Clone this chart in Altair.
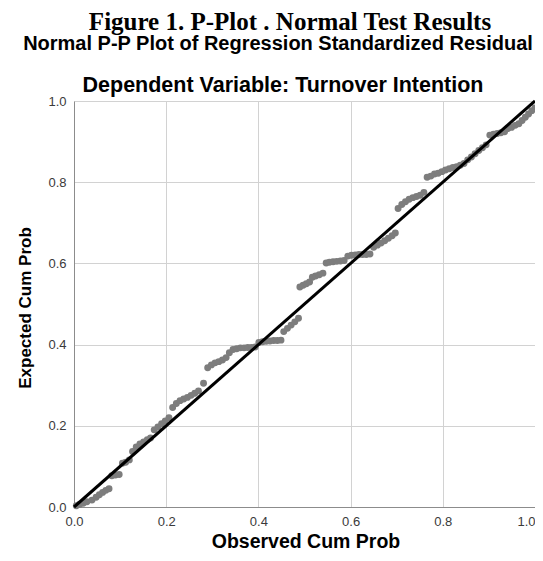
import altair as alt
import pandas as pd

# Observed cumulative probability (x) and expected cumulative probability (y)
obs = [
    0.005, 0.012, 0.020, 0.028, 0.039, 0.048, 0.055, 0.062, 0.069, 0.076,
    0.082, 0.090, 0.098,
    0.105, 0.112, 0.120,
    0.127, 0.135, 0.143, 0.151, 0.159, 0.166,
    0.174, 0.182, 0.190, 0.198, 0.206,
    0.214, 0.222, 0.230, 0.238, 0.246, 0.254, 0.262, 0.270,
    0.281,
    0.290, 0.298, 0.306, 0.314, 0.322, 0.330,
    0.337, 0.345, 0.353, 0.361, 0.369, 0.377, 0.385, 0.393,
    0.401, 0.409, 0.417, 0.425, 0.433, 0.441, 0.449,
    0.455, 0.463, 0.471, 0.479, 0.487,
    0.490, 0.497, 0.504, 0.511,
    0.517, 0.524, 0.532, 0.540,
    0.547, 0.554, 0.562, 0.570, 0.578, 0.586,
    0.594, 0.602, 0.610, 0.618, 0.626, 0.634, 0.642,
    0.650, 0.658, 0.666, 0.674, 0.682, 0.690, 0.697,
    0.703, 0.711, 0.719, 0.727, 0.735, 0.743, 0.751, 0.759,
    0.766, 0.774, 0.782, 0.790, 0.798, 0.806, 0.814, 0.822, 0.830, 0.838, 0.846,
    0.854, 0.862, 0.870, 0.878, 0.886, 0.894,
    0.902, 0.910, 0.918, 0.926, 0.934,
    0.941, 0.949, 0.957, 0.965,
    0.972, 0.979, 0.986, 0.993, 1.000,
]
expected = [
    0.003, 0.006, 0.009, 0.013, 0.017, 0.024, 0.030, 0.036, 0.041, 0.045,
    0.077, 0.079, 0.080,
    0.108, 0.110, 0.116,
    0.137, 0.148, 0.155, 0.160, 0.166, 0.170,
    0.190, 0.197, 0.205, 0.212, 0.220,
    0.245, 0.255, 0.262, 0.266, 0.270, 0.275, 0.280, 0.286,
    0.305,
    0.343, 0.350, 0.355, 0.358, 0.362, 0.368,
    0.380, 0.388, 0.390, 0.392, 0.392, 0.393, 0.393, 0.394,
    0.405, 0.407, 0.408, 0.409, 0.410, 0.410, 0.411,
    0.432, 0.440, 0.448, 0.456, 0.465,
    0.542, 0.546, 0.550, 0.554,
    0.566, 0.569, 0.572, 0.576,
    0.601, 0.603, 0.604, 0.605, 0.606, 0.607,
    0.618, 0.620, 0.621, 0.622, 0.622, 0.622, 0.623,
    0.640, 0.645, 0.650, 0.656, 0.662, 0.668, 0.675,
    0.735, 0.745, 0.752, 0.758, 0.762, 0.765, 0.768, 0.775,
    0.812, 0.815, 0.820, 0.822, 0.826, 0.830, 0.833, 0.836, 0.838, 0.842, 0.846,
    0.855, 0.862, 0.870, 0.878, 0.885, 0.892,
    0.916, 0.918, 0.920, 0.922, 0.924,
    0.932, 0.935, 0.940, 0.944,
    0.952, 0.960, 0.968, 0.976, 0.983,
]

ref_line = [0.0, 1.0]
ticks = [0.0, 0.2, 0.4, 0.6, 0.8, 1.0]

fig_title = "Figure 1. P-Plot . Normal Test Results"
title_1 = "Normal P-P Plot of Regression Standardized Residual"
title_2 = "Dependent Variable: Turnover Intention"
x_title = "Observed Cum Prob"
y_title = "Expected Cum Prob"

SANS = "Liberation Sans"
SERIF = "Liberation Serif"

pts = pd.DataFrame({"obs": obs, "exp": expected})
diag = pd.DataFrame({"obs": ref_line, "exp": ref_line})

axis_common = dict(
    values=ticks, format=".1f", grid=True, gridColor="#d2d2d2", gridWidth=1,
    ticks=False, domainColor="#8c8c8c", domainWidth=1,
    labelFont=SANS, labelFontSize=13, labelColor="#3a3a3a", labelPadding=8,
    labelFlush=False, title=None,
)

x_enc = alt.X("obs:Q", scale=alt.Scale(domain=[0, 1], nice=False),
              axis=alt.Axis(labelAlign=alt.ExprRef("datum.value == 1 ? 'right' : 'center'"),
                            **axis_common))
y_enc = alt.Y("exp:Q", scale=alt.Scale(domain=[0, 1], nice=False),
              axis=alt.Axis(**axis_common))

points = alt.Chart(pts).mark_circle(size=48, color="#7d7d7d", opacity=1).encode(
    x=x_enc, y=y_enc
)

line = alt.Chart(diag).mark_line(color="#000000", strokeWidth=3).encode(
    x="obs:Q", y="exp:Q"
)


def text_layer(txt, x, y, font, size, weight="bold", angle=0):
    return alt.Chart(pd.DataFrame({"label": [txt]})).mark_text(
        font=font, fontSize=size, fontWeight=weight, color="#000000",
        align="center", baseline="alphabetic", angle=angle,
    ).encode(text="label:N", x=alt.value(x), y=alt.value(y))


t0 = text_layer(fig_title, 216, -71.5, SERIF, 25)
t1 = text_layer(title_1, 204, -51, SANS, 20)
t2 = text_layer(title_2, 209, -9, SANS, 21.5)
tx = text_layer(x_title, 232, 447, SANS, 19.5)
ty = text_layer(y_title, -43, 207, SANS, 17, angle=270)

chart = alt.layer(points, line, t0, t1, t2, tx, ty).properties(
    width=461, height=406,
    autosize=alt.AutoSizeParams(type="none"),
    padding={"left": 66, "top": 93, "right": 0, "bottom": 46},
    background="#ffffff",
).configure_view(strokeWidth=0)

chart.save("out.html", embed_options={"renderer": "svg", "actions": False})
